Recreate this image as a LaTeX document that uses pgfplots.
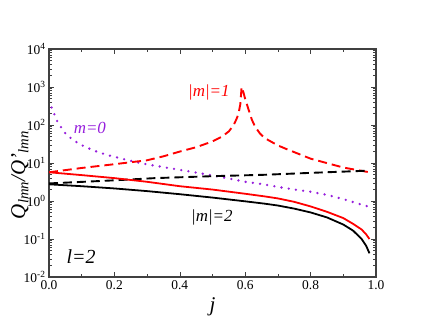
\documentclass[border=0pt]{standalone}
\usepackage{fontspec}
\setmainfont{Liberation Serif}
\usepackage{pgfplots}
\pgfplotsset{compat=1.18}
\definecolor{mpurple}{RGB}{150,30,220}
\definecolor{mred}{RGB}{255,0,0}
\begin{document}
\begin{tikzpicture}
\begin{axis}[
  scale only axis, width=327bp, height=228bp,
  xmin=0, xmax=1, ymin=1e-2, ymax=1e4, ymode=log,
  axis line style={line width=1.1pt, black!75},
  tick style={black!75, line width=0.6pt},
  major tick length=5bp, minor tick length=3bp,
  tick align=inside,
  xtick={0,0.2,0.4,0.6,0.8,1},
  xticklabels={0.0,0.2,0.4,0.6,0.8,1.0},
  minor xtick={0.1,0.3,0.5,0.7,0.9},
  ytick={1e-2,1e-1,1,1e1,1e2,1e3,1e4},
  yticklabels={10\textsuperscript{-2},10\textsuperscript{-1},10\textsuperscript{0},10\textsuperscript{1},10\textsuperscript{2},10\textsuperscript{3},10\textsuperscript{4}},
  tick label style={font=\fontsize{13.5}{13.5}\selectfont},
  xlabel={\textit{j}}, 
  ylabel={\textit{Q}\textsubscript{\textit{lmn}}\textit{/Q'}\textsubscript{\textit{lmn}}},
  label style={font=\fontsize{21}{21}\selectfont},
  xlabel style={at={(axis description cs:0.5,-0.13)}, anchor=center},
  ylabel style={at={(axis description cs:-0.089,0.447)}, anchor=center},
]
% m=0 purple dotted
\addplot[mpurple, line width=2.6pt, line cap=round, dash pattern=on 0pt off 7.3pt] coordinates {
(0.008,288) (0.027,115) (0.054,54) (0.094,31) (0.138,21) (0.181,16) (0.229,12.6) (0.277,10)
(0.3,9.2) (0.35,7.8) (0.4,6.6) (0.45,5.6) (0.5,4.7) (0.55,3.9) (0.6,3.2) (0.65,2.8)
(0.7,2.35) (0.75,2.0) (0.8,1.75) (0.85,1.45) (0.9,1.12) (0.95,0.83) (0.98,0.70)};
% |m|=1 red dashed
\addplot[mred, line width=1.9pt, dash pattern=on 9pt off 5pt] coordinates {
(0,5.7) (0.05,6.5) (0.1,7.4) (0.2,9.3) (0.3,11.8) (0.35,15) (0.4,20) (0.45,26) (0.5,37)
(0.53,50) (0.55,68) (0.565,100) (0.575,155) (0.58,210) (0.585,350) (0.589,1000)
(0.595,700) (0.6,480) (0.61,260) (0.62,140) (0.63,91) (0.645,60) (0.66,45) (0.7,29)
(0.72,24.5) (0.8,13) (0.9,7.6) (0.98,5.7)};
% black dashed
\addplot[black, line width=1.9pt, dash pattern=on 9pt off 5pt] coordinates {
(0,2.9) (0.2,3.5) (0.324,4.0) (0.5,4.5) (0.66,4.9) (0.8,5.5) (0.98,6.3)};
% red solid
\addplot[mred, line width=1.8pt] coordinates {
(0,5.7) (0.1,4.8) (0.2,4.0) (0.3,3.2) (0.4,2.45) (0.5,2.0) (0.6,1.55) (0.66,1.32)
(0.7,1.17) (0.75,0.95) (0.8,0.72) (0.85,0.52) (0.9,0.355) (0.93,0.25) (0.956,0.178)
(0.97,0.132) (0.98,0.10)};
% black solid
\addplot[black, line width=1.8pt] coordinates {
(0,2.75) (0.1,2.45) (0.2,2.14) (0.3,1.82) (0.4,1.51) (0.5,1.23) (0.6,0.98) (0.66,0.85)
(0.7,0.76) (0.75,0.63) (0.8,0.50) (0.85,0.37) (0.9,0.24) (0.93,0.166) (0.956,0.10)
(0.97,0.066) (0.98,0.042)};
\node[mred, font=\fontsize{17}{17}\selectfont] at (axis cs:0.489,740) {\textit{|m|=1}};
\node[mpurple, font=\fontsize{17}{17}\selectfont] at (axis cs:0.125,83) {\textit{m=0}};
\node[black, font=\fontsize{17}{17}\selectfont] at (axis cs:0.498,0.38) {\textit{|m|=2}};
\node[black, font=\fontsize{20}{20}\selectfont] at (axis cs:0.098,0.035) {\textit{l=2}};
\end{axis}
\path ([shift={(-49bp,-50bp)}]current axis.south west) rectangle ([shift={(47bp,49bp)}]current axis.north east);
\end{tikzpicture}
\end{document}
